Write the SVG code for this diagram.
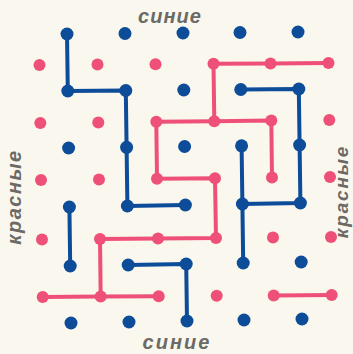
<svg xmlns="http://www.w3.org/2000/svg" width="353" height="354" viewBox="0 0 353 354">
<style>
.bl{fill:none;stroke:#0c4c98;stroke-width:4;stroke-linecap:round;stroke-linejoin:round}
.rl{fill:none;stroke:#ee5079;stroke-width:4;stroke-linecap:round;stroke-linejoin:round}
.b circle{fill:#0c4c98}
.r circle{fill:#ee5079}
.t{font-family:"Liberation Sans",Arial,sans-serif;font-weight:bold;font-style:italic;font-size:20px;fill:#6c6a66;text-anchor:middle}
</style>
<rect width="353" height="354" fill="#faf8ee"/>
<g id="labels">
<text class="t" x="170" y="23" letter-spacing="1">синие</text>
<text class="t" x="177" y="349" letter-spacing="2">синие</text>
<text class="t" transform="translate(21,197) rotate(-90)" letter-spacing="1.5">красные</text>
<text class="t" transform="translate(348,191.5) rotate(-90)" letter-spacing="1.8" style="font-size:19px">красные</text>
</g>
<g id="connectors">
<polyline class="rl" points="328.5,63 270.5,63.4 213.5,63.8 214.3,121.2"/>
<polyline class="rl" points="156.3,121.8 214.3,121.2 271.3,120.6 272,177.6"/>
<polyline class="rl" points="156.3,121.8 157,178.8 215,178.2 216,238 158,238.5 100,239 100.7,296.6"/>
<polyline class="rl" points="42.7,297 100.7,296.6 158.7,296.2"/>
<polyline class="rl" points="273.7,295.4 331.7,295"/>
<polyline class="bl" points="67,34 67.8,91 125.8,90.5 126.6,147.3 127.4,206 185.4,205"/>
<polyline class="bl" points="69.4,207 70.2,266"/>
<polyline class="bl" points="128.2,265 186.2,264 187,321"/>
<polyline class="bl" points="240.8,89.5 298.8,89 299.6,145 300.4,203 242.4,204"/>
<polyline class="bl" points="241.6,145.8 242.4,204 243.2,263"/>
</g>
<g class="b">
<g id="b00"><circle cx="67" cy="34" r="6.5"/></g>
<g id="b10"><circle cx="125" cy="33.5" r="6.5"/></g>
<g id="b20"><circle cx="183" cy="33" r="6.5"/></g>
<g id="b30"><circle cx="240" cy="32.5" r="6.5"/></g>
<g id="b40"><circle cx="298" cy="32" r="6.5"/></g>
<g id="b01"><circle cx="67.8" cy="91" r="6.5"/></g>
<g id="b11"><circle cx="125.8" cy="90.5" r="6.5"/></g>
<g id="b21"><circle cx="183.8" cy="90" r="6.5"/></g>
<g id="b31"><circle cx="240.8" cy="89.5" r="6.5"/></g>
<g id="b41"><circle cx="298.8" cy="89" r="6.5"/></g>
<g id="b02"><circle cx="68.6" cy="148" r="6.5"/></g>
<g id="b12"><circle cx="126.6" cy="147.3" r="6.5"/></g>
<g id="b22"><circle cx="184.6" cy="146.5" r="6.5"/></g>
<g id="b32"><circle cx="241.6" cy="145.8" r="6.5"/></g>
<g id="b42"><circle cx="299.6" cy="145" r="6.5"/></g>
<g id="b03"><circle cx="69.4" cy="207" r="6.5"/></g>
<g id="b13"><circle cx="127.4" cy="206" r="6.5"/></g>
<g id="b23"><circle cx="185.4" cy="205" r="6.5"/></g>
<g id="b33"><circle cx="242.4" cy="204" r="6.5"/></g>
<g id="b43"><circle cx="300.4" cy="203" r="6.5"/></g>
<g id="b04"><circle cx="70.2" cy="266" r="6.5"/></g>
<g id="b14"><circle cx="128.2" cy="265" r="6.5"/></g>
<g id="b24"><circle cx="186.2" cy="264" r="6.5"/></g>
<g id="b34"><circle cx="243.2" cy="263" r="6.5"/></g>
<g id="b44"><circle cx="301.2" cy="262" r="6.5"/></g>
<g id="b05"><circle cx="71" cy="323" r="6.5"/></g>
<g id="b15"><circle cx="129" cy="322" r="6.5"/></g>
<g id="b25"><circle cx="187" cy="321" r="6.5"/></g>
<g id="b35"><circle cx="244" cy="320" r="6.5"/></g>
<g id="b45"><circle cx="302" cy="319" r="6.5"/></g>
</g>
<g class="r">
<g id="r00"><circle cx="39.5" cy="65" r="6"/></g>
<g id="r10"><circle cx="97.5" cy="64.6" r="6"/></g>
<g id="r20"><circle cx="155.5" cy="64.2" r="6"/></g>
<g id="r30"><circle cx="213.5" cy="63.8" r="6"/></g>
<g id="r40"><circle cx="270.5" cy="63.4" r="6"/></g>
<g id="r50"><circle cx="328.5" cy="63" r="6"/></g>
<g id="r01"><circle cx="40.3" cy="123" r="6"/></g>
<g id="r11"><circle cx="98.3" cy="122.4" r="6"/></g>
<g id="r21"><circle cx="156.3" cy="121.8" r="6"/></g>
<g id="r31"><circle cx="214.3" cy="121.2" r="6"/></g>
<g id="r41"><circle cx="271.3" cy="120.6" r="6"/></g>
<g id="r51"><circle cx="329.3" cy="120" r="6"/></g>
<g id="r02"><circle cx="41" cy="180" r="6"/></g>
<g id="r12"><circle cx="99" cy="179.4" r="6"/></g>
<g id="r22"><circle cx="157" cy="178.8" r="6"/></g>
<g id="r32"><circle cx="215" cy="178.2" r="6"/></g>
<g id="r42"><circle cx="272" cy="177.6" r="6"/></g>
<g id="r52"><circle cx="330" cy="177" r="6"/></g>
<g id="r03"><circle cx="42" cy="239.5" r="6"/></g>
<g id="r13"><circle cx="100" cy="239" r="6"/></g>
<g id="r23"><circle cx="158" cy="238.5" r="6"/></g>
<g id="r33"><circle cx="216" cy="238" r="6"/></g>
<g id="r43"><circle cx="273" cy="237.5" r="6"/></g>
<g id="r53"><circle cx="331" cy="237" r="6"/></g>
<g id="r04"><circle cx="42.7" cy="297" r="6"/></g>
<g id="r14"><circle cx="100.7" cy="296.6" r="6"/></g>
<g id="r24"><circle cx="158.7" cy="296.2" r="6"/></g>
<g id="r34"><circle cx="216.7" cy="295.8" r="6"/></g>
<g id="r44"><circle cx="273.7" cy="295.4" r="6"/></g>
<g id="r54"><circle cx="331.7" cy="295" r="6"/></g>
</g>
</svg>
